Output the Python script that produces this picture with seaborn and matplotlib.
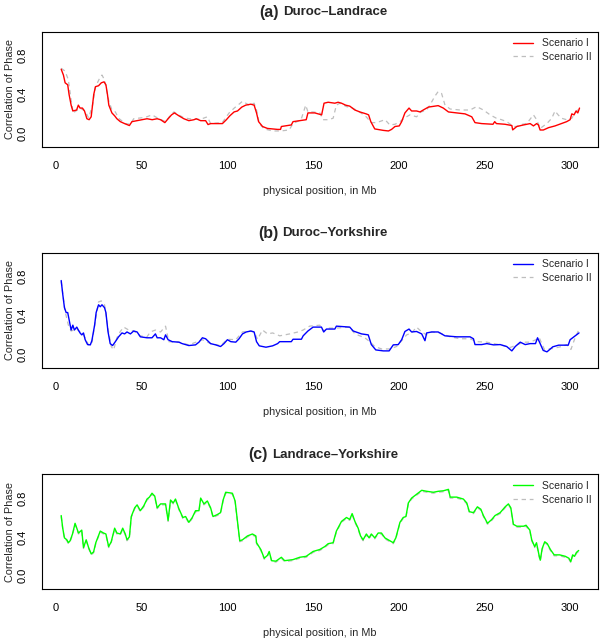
import matplotlib
matplotlib.use("Agg")
import matplotlib.pyplot as plt
import seaborn as sns

# ---- data (position in Mb, correlation of phase) ----
a_pos1 = [3.0, 4.3, 5.3, 6.8, 7.6, 8.8, 9.8, 12.0, 13.0, 14.0, 15.4, 16.6, 18.0, 19.3, 20.5,
          22.0, 23.0, 24.8, 26.4, 28.0, 29.1, 30.0, 30.8, 32.6, 34.2, 35.5, 37.5, 40.0, 42.8,
          44.3, 47.3, 50.2, 53.1, 56.1, 59.0, 61.0, 63.5, 65.4, 67.4, 69.1, 71.7, 74.6, 77.5,
          80.5, 81.8, 84.4, 87.3, 88.7, 90.2, 93.2, 97.1, 99.4, 101.4, 103.9, 105.9, 108.4,
          110.7, 113.7, 115.6, 117.0, 118.2, 120.5, 123.4, 126.4, 129.3, 131.0, 131.5, 137.3,
          138.3, 142.0, 146.0, 147.0, 151.0, 155.0, 156.4, 158.8, 162.7, 164.6, 166.6, 169.0,
          171.4, 174.4, 177.3, 181.0, 182.4, 183.7, 186.0, 191.0, 194.0, 195.8, 197.8, 200.3,
          201.7, 203.6, 206.0, 207.5, 210.4, 212.4, 214.3, 217.3, 221.0, 223.0, 226.0, 229.0,
          233.8, 238.7, 242.6, 244.5, 248.4, 255.0, 256.0, 257.0, 262.0, 266.0, 266.5, 268.9,
          272.8, 276.7, 278.6, 280.5, 281.5, 282.5, 284.4, 287.4, 291.2, 295.0, 298.0, 300.0,
          301.0, 302.3, 303.5, 304.5, 305.5]
a_s1 = [0.66, 0.60, 0.52, 0.50, 0.40, 0.29, 0.23, 0.24, 0.29, 0.26, 0.26, 0.23, 0.15, 0.14, 0.17,
        0.40, 0.48, 0.49, 0.52, 0.53, 0.50, 0.40, 0.29, 0.21, 0.18, 0.15, 0.12, 0.10, 0.08,
        0.12, 0.13, 0.14, 0.15, 0.14, 0.15, 0.14, 0.11, 0.15, 0.19, 0.21, 0.18, 0.15, 0.13,
        0.14, 0.15, 0.13, 0.13, 0.09, 0.10, 0.10, 0.10, 0.14, 0.18, 0.22, 0.23, 0.27,
        0.29, 0.30, 0.29, 0.21, 0.12, 0.07, 0.05, 0.045, 0.04, 0.04, 0.07, 0.086,
        0.12, 0.13, 0.14, 0.21, 0.21, 0.19, 0.31, 0.32, 0.31, 0.32, 0.31, 0.29,
        0.28, 0.24, 0.22, 0.20, 0.19, 0.12, 0.045, 0.03, 0.024, 0.04, 0.07, 0.076,
        0.12, 0.21, 0.26, 0.23, 0.23, 0.22, 0.24, 0.27, 0.28, 0.285, 0.26, 0.22,
        0.21, 0.20, 0.17, 0.11, 0.10, 0.093, 0.12, 0.10, 0.093, 0.08, 0.035, 0.07,
        0.086, 0.10, 0.076, 0.10, 0.086, 0.034, 0.034, 0.058, 0.076, 0.10, 0.12, 0.14,
        0.20, 0.19, 0.23, 0.21, 0.26]

a_pos2 = [3.0, 5.3, 7.2, 8.8, 10.0, 14.0, 16.9, 19.0, 21.3, 23.0, 25.8, 26.8, 28.3, 30.7, 32.6,
          34.6, 36.5, 40.4, 43.4, 45.3, 50.2, 53.0, 56.0, 60.0, 63.9, 66.5, 68.8, 71.5, 74.6,
          79.5, 84.4, 88.3, 90.2, 97.0, 101.0, 104.0, 106.8, 108.8, 112.7, 115.6, 117.0, 118.6,
          121.5, 126.4, 131.0, 136.0, 138.3, 143.0, 145.7, 147.0, 150.0, 154.0, 155.8, 158.8,
          161.7, 163.6, 165.6, 169.5, 173.0, 176.3, 181.0, 184.0, 187.0, 192.0, 194.8, 197.8,
          200.7, 203.6, 206.5, 210.4, 213.0, 216.3, 218.2, 221.0, 223.0, 225.0, 227.0, 230.0,
          235.8, 241.6, 245.5, 249.4, 253.3, 257.0, 260.0, 263.0, 267.0, 269.0, 271.0, 274.7,
          278.6, 280.5, 282.5, 286.4, 289.3, 291.2, 293.0, 295.0, 298.0, 301.0, 303.0, 305.8]
a_s2 = [0.67, 0.64, 0.55, 0.34, 0.21, 0.26, 0.23, 0.16, 0.29, 0.48, 0.58, 0.60, 0.55, 0.34, 0.24,
        0.22, 0.155, 0.10, 0.093, 0.15, 0.16, 0.17, 0.19, 0.15, 0.12, 0.18, 0.22, 0.19, 0.16,
        0.145, 0.145, 0.17, 0.10, 0.11, 0.21, 0.26, 0.30, 0.33, 0.29, 0.31, 0.24, 0.10,
        0.045, 0.024, 0.024, 0.034, 0.10, 0.14, 0.29, 0.22, 0.22, 0.21, 0.14, 0.14,
        0.155, 0.29, 0.31, 0.275, 0.26, 0.23, 0.17, 0.11, 0.11, 0.14, 0.086, 0.093,
        0.12, 0.16, 0.19, 0.17, 0.22, 0.24, 0.29, 0.38, 0.43, 0.41, 0.29, 0.25,
        0.24, 0.24, 0.275, 0.24, 0.19, 0.155, 0.14, 0.12, 0.07, 0.07, 0.09, 0.10,
        0.19, 0.14, 0.05, 0.10, 0.155, 0.23, 0.19, 0.155, 0.14, 0.155, 0.21, 0.27]

b_pos1 = [3.0, 3.9, 4.9, 5.9, 6.8, 7.6, 8.8, 9.8, 10.7, 12.1, 13.0, 14.0, 15.0, 16.0, 17.0, 18.4,
          20.0, 20.9, 22.5, 23.4, 24.8, 25.8, 26.8, 28.3, 29.1, 30.3, 31.6, 33.0, 34.6, 36.5,
          38.5, 40.0, 41.4, 43.4, 45.3, 47.3, 49.2, 53.1, 56.0, 58.0, 59.0, 61.0, 62.9, 63.9,
          65.4, 67.8, 71.7, 73.6, 77.5, 81.4, 83.4, 85.4, 87.3, 90.2, 93.2, 96.0, 98.0, 100.0,
          102.0, 104.9, 106.8, 108.8, 111.0, 113.7, 115.6, 117.0, 118.6, 122.5, 126.4, 129.3,
          130.5, 137.3, 138.3, 143.2, 144.2, 147.0, 150.0, 154.9, 156.2, 157.8, 162.7, 163.6,
          171.4, 173.4, 178.3, 182.2, 184.0, 186.6, 191.0, 194.4, 196.8, 199.7, 201.7, 203.6,
          206.0, 207.5, 210.4, 213.4, 215.3, 216.3, 219.2, 223.0, 227.0, 233.8, 241.6, 243.6,
          244.5, 248.4, 251.4, 255.3, 259.2, 263.0, 266.0, 268.0, 270.9, 273.8, 276.7, 279.8,
          281.0, 282.0, 284.3, 286.5, 289.9, 293.3, 298.9, 300.0, 302.2, 304.5, 305.2]
b_s1 = [0.76, 0.62, 0.48, 0.43, 0.43, 0.36, 0.25, 0.30, 0.25, 0.28, 0.25, 0.22, 0.20, 0.22, 0.15, 0.10,
        0.097, 0.14, 0.30, 0.43, 0.51, 0.49, 0.51, 0.48, 0.43, 0.235, 0.11, 0.09, 0.13, 0.18,
        0.22, 0.21, 0.23, 0.21, 0.24, 0.23, 0.18, 0.17, 0.17, 0.21, 0.17, 0.17, 0.15, 0.20,
        0.15, 0.13, 0.125, 0.11, 0.09, 0.097, 0.125, 0.17, 0.16, 0.11, 0.097, 0.08, 0.11, 0.15,
        0.13, 0.125, 0.16, 0.21, 0.23, 0.24, 0.23, 0.13, 0.087, 0.073, 0.087, 0.11,
        0.13, 0.13, 0.155, 0.155, 0.19, 0.24, 0.28, 0.28, 0.23, 0.26, 0.26, 0.29,
        0.28, 0.24, 0.21, 0.20, 0.10, 0.045, 0.035, 0.035, 0.097, 0.10, 0.15, 0.235,
        0.26, 0.23, 0.235, 0.21, 0.14, 0.22, 0.23, 0.23, 0.19, 0.18, 0.18, 0.16,
        0.10, 0.10, 0.11, 0.097, 0.10, 0.08, 0.035, 0.08, 0.125, 0.10, 0.11, 0.11,
        0.17, 0.13, 0.04, 0.025, 0.077, 0.094, 0.094, 0.15, 0.18, 0.21, 0.22]

b_pos2 = [3.0, 5.3, 7.2, 8.8, 12.1, 16.0, 19.0, 20.9, 22.9, 24.8, 26.4, 28.3, 30.3, 32.2, 33.6,
          35.5, 37.5, 39.5, 42.4, 45.3, 49.2, 53.1, 55.0, 58.0, 61.0, 63.9, 65.8, 71.7, 77.5,
          85.4, 90.2, 96.0, 100.0, 104.9, 108.8, 112.7, 115.6, 117.6, 120.5, 123.4, 126.4, 129.3,
          130.5, 136.4, 141.2, 144.2, 148.0, 153.9, 156.2, 158.8, 163.6, 171.4, 174.4, 180.2,
          183.1, 186.0, 190.0, 194.8, 198.7, 201.7, 204.6, 207.5, 210.4, 213.4, 216.3, 219.2,
          224.0, 230.0, 235.8, 241.6, 245.5, 251.4, 259.2, 265.0, 269.0, 272.8, 276.7, 280.0,
          282.0, 285.0, 290.0, 295.0, 298.0, 300.5, 302.5, 305.0]
b_s2 = [0.75, 0.44, 0.30, 0.24, 0.26, 0.20, 0.097, 0.11, 0.34, 0.54, 0.55, 0.51, 0.27, 0.08, 0.045,
        0.17, 0.235, 0.28, 0.25, 0.24, 0.19, 0.18, 0.23, 0.25, 0.23, 0.29, 0.13, 0.125, 0.097,
        0.15, 0.11, 0.09, 0.155, 0.15, 0.23, 0.24, 0.23, 0.155, 0.25, 0.21, 0.22, 0.20,
        0.19, 0.21, 0.23, 0.25, 0.29, 0.30, 0.24, 0.27, 0.27, 0.28, 0.21, 0.17,
        0.13, 0.08, 0.055, 0.055, 0.08, 0.14, 0.20, 0.22, 0.28, 0.23, 0.20, 0.23,
        0.22, 0.18, 0.16, 0.16, 0.13, 0.125, 0.097, 0.07, 0.097, 0.125, 0.125, 0.15,
        0.17, 0.05, 0.06, 0.08, 0.10, 0.05, 0.15, 0.25]

c_pos = [3.0, 3.9, 4.9, 6.3, 7.2, 8.2, 9.6, 11.1, 12.1, 13.1, 15.0, 16.0, 17.6, 19.0, 20.5, 21.9,
         23.2, 25.8, 27.7, 29.1, 30.7, 32.2, 34.2, 35.5, 37.5, 38.9, 40.4, 41.4, 42.8, 43.9,
         45.9, 47.3, 49.2, 51.2, 53.1, 54.5, 56.0, 57.6, 59.0, 61.0, 63.9, 65.4, 66.8, 68.4,
         69.7, 71.7, 74.0, 75.6, 77.5, 79.5, 81.4, 83.4, 84.4, 86.3, 88.3, 90.2, 91.6, 94.1,
         96.0, 97.5, 99.0, 102.9, 104.5, 105.9, 107.2, 108.8, 111.7, 114.6, 116.6, 117.0,
         119.5, 121.5, 123.4, 124.4, 125.8, 128.3, 131.5, 133.4, 138.3, 142.2, 146.0, 150.0,
         153.9, 156.8, 158.8, 161.7, 163.6, 166.6, 169.5, 171.4, 172.8, 174.4, 176.3, 177.7,
         179.2, 181.1, 182.7, 184.0, 186.0, 188.0, 189.9, 191.9, 194.8, 196.8, 198.3, 200.7,
         202.6, 204.2, 205.6, 207.5, 210.4, 213.4, 216.3, 220.2, 223.1, 226.0, 229.0, 230.0,
         233.8, 237.7, 239.7, 241.2, 243.6, 245.9, 247.9, 249.4, 251.8, 254.3, 256.2, 259.2,
         262.1, 264.0, 265.4, 266.9, 268.9, 272.8, 274.3, 276.5, 277.6, 279.3, 280.4, 282.0,
         282.6, 283.7, 285.2, 286.7, 288.5, 290.7, 293.9, 297.2, 299.3, 300.4, 301.5, 302.6,
         303.7, 305.0]
c_s1 = [0.62, 0.49, 0.39, 0.37, 0.34, 0.36, 0.43, 0.54, 0.49, 0.44, 0.47, 0.29, 0.37, 0.29, 0.225, 0.245,
        0.34, 0.46, 0.44, 0.43, 0.30, 0.35, 0.49, 0.44, 0.43, 0.49, 0.43, 0.37, 0.40, 0.61,
        0.70, 0.73, 0.67, 0.72, 0.79, 0.81, 0.85, 0.82, 0.70, 0.74, 0.74, 0.57, 0.78, 0.75,
        0.79, 0.69, 0.60, 0.61, 0.55, 0.60, 0.67, 0.67, 0.80, 0.74, 0.77, 0.70, 0.61, 0.63,
        0.65, 0.78, 0.86, 0.85, 0.77, 0.56, 0.36, 0.37, 0.41, 0.43, 0.41, 0.34,
        0.27, 0.18, 0.21, 0.25, 0.155, 0.15, 0.19, 0.155, 0.166, 0.19, 0.20, 0.25,
        0.27, 0.30, 0.33, 0.34, 0.46, 0.56, 0.60, 0.58, 0.64, 0.56, 0.49, 0.41,
        0.37, 0.43, 0.39, 0.43, 0.39, 0.44, 0.44, 0.39, 0.36, 0.34, 0.39, 0.55,
        0.60, 0.61, 0.75, 0.80, 0.84, 0.88, 0.87, 0.86, 0.87, 0.875, 0.89, 0.81,
        0.81, 0.79, 0.75, 0.66, 0.65, 0.71, 0.685, 0.62, 0.54, 0.58, 0.62, 0.65,
        0.71, 0.74, 0.70, 0.53, 0.51, 0.51, 0.52, 0.47, 0.37, 0.30, 0.34, 0.20,
        0.16, 0.28, 0.35, 0.33, 0.27, 0.215, 0.215, 0.20, 0.18, 0.145, 0.215, 0.20,
        0.24, 0.26]
c_s2 = [0.61, 0.48, 0.38, 0.36, 0.33, 0.35, 0.42, 0.53, 0.48, 0.43, 0.46, 0.28, 0.36, 0.28, 0.215, 0.235,
        0.33, 0.45, 0.43, 0.42, 0.29, 0.34, 0.48, 0.43, 0.42, 0.48, 0.42, 0.36, 0.39, 0.60,
        0.69, 0.72, 0.66, 0.71, 0.78, 0.80, 0.84, 0.81, 0.69, 0.73, 0.73, 0.56, 0.77, 0.74,
        0.78, 0.68, 0.59, 0.60, 0.54, 0.59, 0.66, 0.66, 0.79, 0.73, 0.76, 0.69, 0.60, 0.62,
        0.64, 0.77, 0.85, 0.84, 0.76, 0.55, 0.35, 0.36, 0.40, 0.42, 0.40, 0.33,
        0.26, 0.17, 0.20, 0.24, 0.145, 0.14, 0.18, 0.145, 0.156, 0.18, 0.19, 0.24,
        0.26, 0.29, 0.32, 0.33, 0.45, 0.55, 0.59, 0.57, 0.63, 0.55, 0.48, 0.40,
        0.36, 0.42, 0.38, 0.42, 0.38, 0.43, 0.43, 0.38, 0.35, 0.33, 0.38, 0.54,
        0.59, 0.60, 0.74, 0.79, 0.83, 0.87, 0.86, 0.85, 0.86, 0.865, 0.88, 0.80,
        0.80, 0.78, 0.74, 0.65, 0.64, 0.70, 0.675, 0.61, 0.53, 0.57, 0.61, 0.64,
        0.70, 0.73, 0.69, 0.52, 0.50, 0.50, 0.51, 0.46, 0.36, 0.29, 0.33, 0.19,
        0.15, 0.27, 0.34, 0.32, 0.26, 0.205, 0.205, 0.19, 0.17, 0.135, 0.205, 0.19,
        0.23, 0.25]

panel_tags = ["(a)", "(b)", "(c)"]
panel_names = ["Duroc\u2013Landrace", "Duroc\u2013Yorkshire", "Landrace\u2013Yorkshire"]
panel_colors = ["#FF0000", "#0000FF", "#00FF00"]
x_ticks = [0, 50, 100, 150, 200, 250, 300]
y_ticks = [0.0, 0.2, 0.4, 0.6, 0.8, 1.0]
y_ticklabels = ["0.0", "", "0.4", "", "0.8", ""]

sns.set_style("white")
plt.rcParams['font.family'] = ['Liberation Sans', 'DejaVu Sans']

fig = plt.figure(figsize=(6, 6.4), dpi=100)
series = [(a_pos1, a_s1, a_pos2, a_s2),
          (b_pos1, b_s1, b_pos2, b_s2),
          (c_pos, c_s1, c_pos, c_s2)]
bottoms = [0.7708, 0.4255, 0.0795]

axes = []
for i, (p1, s1, p2, s2) in enumerate(series):
    ax = fig.add_axes([0.07, bottoms[i], 0.927, 0.1797])
    sns.lineplot(x=p2, y=s2, ax=ax, color="#BEBEBE", lw=0.9, linestyle=(0, (3.5, 3)),
                 sort=False, estimator=None, label="Scenario II")
    sns.lineplot(x=p1, y=s1, ax=ax, color=panel_colors[i], lw=1.0,
                 sort=False, estimator=None, label="Scenario I")
    ax.set_xlim(-8.2, 316.4)
    ax.set_ylim(-0.138, 1.047)
    ax.set_xticks(x_ticks)
    ax.set_xticklabels([str(t) for t in x_ticks])
    ax.set_yticks(y_ticks)
    ax.set_yticklabels(y_ticklabels, rotation=90, va="center")
    ax.tick_params(direction="out", length=5, width=0.8, colors="#333333",
                   labelsize=8, labelcolor="black", pad=5)
    for sp in ax.spines.values():
        sp.set_visible(True)
        sp.set_color("black")
        sp.set_linewidth(0.8)
    ax.set_xlabel("physical position, in Mb", fontsize=7.8, va="center")
    ax.xaxis.set_label_coords(0.5, -0.385)
    ax.set_ylabel("Correlation of Phase", fontsize=7.8, va="center")
    ax.yaxis.set_label_coords(-0.058, 0.5)
    h, l = ax.get_legend_handles_labels()
    ax.legend(h[::-1], l[::-1], loc="upper right", frameon=False, fontsize=7.5,
              handlelength=2.0, handletextpad=0.8, labelspacing=0.35,
              borderaxespad=0.25, bbox_to_anchor=(1.0, 1.0))
    axes.append(ax)

# two-part titles: bigger "(x)" tag followed by the breed pair, centred together
fig.canvas.draw()
renderer = fig.canvas.get_renderer()
for i, ax in enumerate(axes):
    t1 = ax.text(0, 1.17, panel_tags[i], transform=ax.transAxes, fontsize=11.5,
                 fontweight="bold", ha="left", va="center")
    t2 = ax.text(0, 1.17, panel_names[i], transform=ax.transAxes, fontsize=9.5,
                 fontweight="bold", ha="left", va="center")
    w1 = t1.get_window_extent(renderer).width
    w2 = t2.get_window_extent(renderer).width
    gap = 4.0
    axw = ax.get_window_extent(renderer).width
    start = 0.5 * axw - 0.5 * (w1 + gap + w2) + 3
    t1.set_x(start / axw)
    t2.set_x((start + w1 + gap) / axw)

fig.savefig("out.png", dpi=100)
